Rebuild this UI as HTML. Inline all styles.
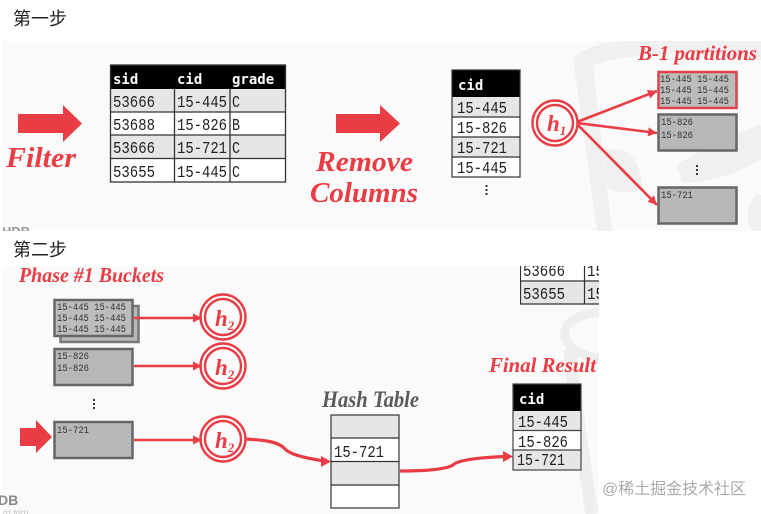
<!DOCTYPE html>
<html><head><meta charset="utf-8">
<style>
html,body{margin:0;padding:0;background:#fff;width:761px;height:514px;overflow:hidden}
svg{display:block}
.m{font-family:"Liberation Mono","DejaVu Sans Mono",monospace;font-size:16.500px;fill:#222}
.h{font-family:"DejaVu Sans Mono","Liberation Mono",monospace;font-size:14px;font-weight:bold;fill:#fff}
.s{font-family:"Liberation Mono","DejaVu Sans Mono",monospace;font-size:10.500px;fill:#333}
.t{font-family:"Liberation Serif",serif;font-style:italic;font-weight:bold;fill:#ea3c44}
.c{font-family:"Liberation Sans","Noto Sans CJK SC",sans-serif;font-size:18px;fill:#222}
.hh{font-family:"Liberation Serif",serif;font-style:italic;font-weight:bold;font-size:23px;fill:#ea3c44}
.sub{font-size:13px}
</style></head><body>
<svg width="761" height="514" viewBox="0 0 761 514" xmlns="http://www.w3.org/2000/svg">
<defs>
<marker id="a" markerUnits="userSpaceOnUse" markerWidth="10" markerHeight="10" refX="9" refY="5" orient="auto"><path d="M0 0.5L9 5L0 9.500Z" fill="#ea3c44"/></marker>
<clipPath id="p1"><rect x="3" y="41" width="758" height="190"/></clipPath>
<clipPath id="p2"><rect x="3" y="266" width="596" height="248"/></clipPath>
</defs>
<rect x="3" y="41" width="758" height="190" fill="#fafafa"/>
<g clip-path="url(#p1)">
<path d="M573 58C590 44 610 41 640 41H761V60C700 52 630 50 593 66L612 231H597Z" fill="#f0f0f0"/>
<path d="M604 150C625 145 640 155 643 190C620 195 610 190 606 185Z" fill="#f0f0f0"/>
<path d="M677 165C700 150 740 130 761 125V160C735 175 700 185 682 182Z" fill="#f0f0f0"/>
<path d="M755 195C745 210 745 225 755 231H761V195Z" fill="#f0f0f0"/>
</g>
<rect x="3" y="266" width="596" height="248" fill="#fafafa"/>
<g clip-path="url(#p2)" fill="none" stroke="#eeeeee">
<path d="M599 312C575 315 560 325 566 340C572 352 590 358 600 358" stroke-width="9"/>
<path d="M570 350C575 400 582 450 592 514" stroke-width="13"/>
</g>

<text class="c" x="13" y="25">第一步</text>
<text class="c" x="13" y="256">第二步</text>

<path d="M18 114H63V105L82 123.500L63 142V133H18Z" fill="#ea3c44"/>
<path d="M336 114H380V105L400 123.500L380 142V133H336Z" fill="#ea3c44"/>
<text class="t" x="6" y="167" font-size="28" textLength="70" lengthAdjust="spacingAndGlyphs">Filter</text>
<text class="t" x="316" y="171" font-size="28" textLength="97" lengthAdjust="spacingAndGlyphs">Remove</text>
<text class="t" x="310" y="202" font-size="28" textLength="108" lengthAdjust="spacingAndGlyphs">Columns</text>

<!-- table 1 -->
<rect x="110.500" y="65" width="175" height="24" fill="#000"/>
<rect x="110.500" y="89" width="175" height="23" fill="#e6e6e6"/>
<rect x="110.500" y="112" width="175" height="23" fill="#fff"/>
<rect x="110.500" y="135" width="175" height="23" fill="#e6e6e6"/>
<rect x="110.500" y="158" width="175" height="24" fill="#fff"/>
<g stroke="#333" stroke-width="1.300" fill="none">
<rect x="110.500" y="65" width="175" height="117"/>
<path d="M110 112H285M110 135H285M110 158.500H285M174.500 89V182M230 89V182"/>
</g>
<text class="h" x="113" y="84">sid</text><text class="h" x="177" y="84">cid</text><text class="h" x="232" y="84">grade</text>
<text class="m" x="113" y="107" textLength="42" lengthAdjust="spacingAndGlyphs">53666</text><text class="m" x="177" y="107" textLength="50" lengthAdjust="spacingAndGlyphs">15-445</text><text class="m" x="232" y="107" textLength="8" lengthAdjust="spacingAndGlyphs">C</text>
<text class="m" x="113" y="130" textLength="42" lengthAdjust="spacingAndGlyphs">53688</text><text class="m" x="177" y="130" textLength="50" lengthAdjust="spacingAndGlyphs">15-826</text><text class="m" x="232" y="130" textLength="8" lengthAdjust="spacingAndGlyphs">B</text>
<text class="m" x="113" y="153" textLength="42" lengthAdjust="spacingAndGlyphs">53666</text><text class="m" x="177" y="153" textLength="50" lengthAdjust="spacingAndGlyphs">15-721</text><text class="m" x="232" y="153" textLength="8" lengthAdjust="spacingAndGlyphs">C</text>
<text class="m" x="113" y="177" textLength="42" lengthAdjust="spacingAndGlyphs">53655</text><text class="m" x="177" y="177" textLength="50" lengthAdjust="spacingAndGlyphs">15-445</text><text class="m" x="232" y="177" textLength="8" lengthAdjust="spacingAndGlyphs">C</text>

<!-- cid table -->
<rect x="452" y="70" width="68" height="27" fill="#000"/>
<rect x="452" y="97" width="68" height="20" fill="#e6e6e6"/>
<rect x="452" y="117" width="68" height="20" fill="#fff"/>
<rect x="452" y="137" width="68" height="20" fill="#e6e6e6"/>
<rect x="452" y="157" width="68" height="20" fill="#fff"/>
<g stroke="#333" stroke-width="1.200" fill="none"><rect x="452" y="70" width="68" height="107"/><path d="M452 117H520M452 137H520M452 157H520"/></g>
<text class="h" x="458" y="90">cid</text>
<text class="m" x="457" y="113" textLength="50" lengthAdjust="spacingAndGlyphs">15-445</text><text class="m" x="457" y="133" textLength="50" lengthAdjust="spacingAndGlyphs">15-826</text><text class="m" x="457" y="153" textLength="50" lengthAdjust="spacingAndGlyphs">15-721</text><text class="m" x="457" y="173" textLength="50" lengthAdjust="spacingAndGlyphs">15-445</text>
<g fill="#333"><rect x="485.500" y="185" width="2" height="2"/><rect x="485.500" y="189" width="2" height="2"/><rect x="485.500" y="193" width="2" height="2"/></g>

<!-- h1 -->
<circle cx="555" cy="123" r="22.500" fill="none" stroke="#ea3c44" stroke-width="2.400"/>
<circle cx="555" cy="123" r="18" fill="none" stroke="#ea3c44" stroke-width="2.400"/>
<text class="hh" x="547" y="131">h<tspan class="sub" dy="4">1</tspan></text>
<g stroke="#ea3c44" stroke-width="2.600" fill="none">
<path d="M577 122L657 91" marker-end="url(#a)"/>
<path d="M577 123L657 133" marker-end="url(#a)"/>
<path d="M577 124L657 205" marker-end="url(#a)"/>
</g>
<text class="t" x="638" y="60" font-size="21" textLength="119" lengthAdjust="spacingAndGlyphs">B-1 partitions</text>

<!-- buckets panel 1 -->
<rect x="658.500" y="72" width="78" height="36" fill="#bcbcbc" stroke="#e04048" stroke-width="2.500"/>
<text class="s" x="660" y="82" textLength="69" lengthAdjust="spacingAndGlyphs">15-445 15-445</text><text class="s" x="660" y="93" textLength="69" lengthAdjust="spacingAndGlyphs">15-445 15-445</text><text class="s" x="660" y="104" textLength="69" lengthAdjust="spacingAndGlyphs">15-445 15-445</text>
<rect x="658.500" y="114.500" width="78" height="36" fill="#b8b8b8" stroke="#666" stroke-width="2.500"/>
<text class="s" x="661" y="125" textLength="32" lengthAdjust="spacingAndGlyphs">15-826</text><text class="s" x="661" y="138" textLength="32" lengthAdjust="spacingAndGlyphs">15-826</text>
<g fill="#333"><rect x="696" y="165" width="2" height="2"/><rect x="696" y="169" width="2" height="2"/><rect x="696" y="173" width="2" height="2"/></g>
<rect x="658.500" y="187.500" width="78" height="36" fill="#b8b8b8" stroke="#666" stroke-width="2.500"/>
<text class="s" x="661" y="198" textLength="32" lengthAdjust="spacingAndGlyphs">15-721</text>

<g clip-path="url(#p1)"><text fill="#999" font-family="Liberation Sans,sans-serif" font-size="13" font-weight="bold" x="2" y="236">HDB</text></g>

<!-- top stub -->
<svg x="520" y="266" width="79" height="39" viewBox="520 266 79 39">
<rect x="520.500" y="281" width="90" height="23" fill="#e6e6e6"/>
<rect x="520.500" y="260" width="90" height="21" fill="#fff"/>
<g stroke="#333" stroke-width="1.200" fill="none"><path d="M520.500 260V304H610M520 281H610M584.500 260V304"/></g>
<text class="m" x="523" y="276" textLength="42" lengthAdjust="spacingAndGlyphs">53666</text><text class="m" x="587" y="276" textLength="17" lengthAdjust="spacingAndGlyphs">15</text>
<text class="m" x="523" y="299" textLength="42" lengthAdjust="spacingAndGlyphs">53655</text><text class="m" x="587" y="299" textLength="17" lengthAdjust="spacingAndGlyphs">15</text>
</svg>

<!-- phase 1 -->
<text class="t" x="19" y="282" font-size="21" textLength="145" lengthAdjust="spacingAndGlyphs">Phase #1 Buckets</text>
<rect x="60.500" y="306" width="78" height="36" fill="#b8b8b8" stroke="#777" stroke-width="2.500"/>
<rect x="54.500" y="300" width="78" height="36" fill="#bcbcbc" stroke="#666" stroke-width="2.500"/>
<text class="s" x="57" y="310" textLength="69" lengthAdjust="spacingAndGlyphs">15-445 15-445</text><text class="s" x="57" y="321" textLength="69" lengthAdjust="spacingAndGlyphs">15-445 15-445</text><text class="s" x="57" y="332" textLength="69" lengthAdjust="spacingAndGlyphs">15-445 15-445</text>
<rect x="54.500" y="349" width="78" height="36" fill="#b8b8b8" stroke="#666" stroke-width="2.500"/>
<text class="s" x="57" y="359" textLength="32" lengthAdjust="spacingAndGlyphs">15-826</text><text class="s" x="57" y="371" textLength="32" lengthAdjust="spacingAndGlyphs">15-826</text>
<g fill="#333"><rect x="93" y="399" width="2" height="2"/><rect x="93" y="403" width="2" height="2"/><rect x="93" y="407" width="2" height="2"/></g>
<rect x="54.500" y="422" width="78" height="36" fill="#b8b8b8" stroke="#666" stroke-width="2.500"/>
<text class="s" x="57" y="433" textLength="32" lengthAdjust="spacingAndGlyphs">15-721</text>
<path d="M20 428H36V420L52 437L36 453V446H20Z" fill="#ea3c44"/>

<g stroke="#ea3c44" stroke-width="2.600" fill="none">
<path d="M134 318H202" marker-end="url(#a)"/>
<path d="M134 366H202" marker-end="url(#a)"/>
<path d="M134 440H202" marker-end="url(#a)"/>
</g>
<g fill="none" stroke="#ea3c44" stroke-width="2.400">
<circle cx="223" cy="317" r="22.500"/><circle cx="223" cy="317" r="18"/>
<circle cx="223" cy="366" r="22.500"/><circle cx="223" cy="366" r="18"/>
<circle cx="223" cy="439" r="22.500"/><circle cx="223" cy="439" r="18"/>
</g>
<text class="hh" x="215" y="326">h<tspan class="sub" dy="4">2</tspan></text>
<text class="hh" x="215" y="375">h<tspan class="sub" dy="4">2</tspan></text>
<text class="hh" x="215" y="448">h<tspan class="sub" dy="4">2</tspan></text>

<path d="M246 439C262 440 278 441 285 449C292 456 312 459 324 461" fill="none" stroke="#ea3c44" stroke-width="3.200"/>
<path d="M321 456L331 461.500L321 467Z" fill="#ea3c44"/>

<text class="t" x="322" y="407" font-size="23" style="fill:#5a5a5a" textLength="97" lengthAdjust="spacingAndGlyphs">Hash Table</text>
<rect x="331" y="415" width="68" height="23" fill="#e6e6e6"/>
<rect x="331" y="438" width="68" height="24" fill="#fff"/>
<rect x="331" y="462" width="68" height="23" fill="#e6e6e6"/>
<rect x="331" y="485" width="68" height="23" fill="#fff"/>
<g stroke="#333" stroke-width="1.200" fill="none"><rect x="331" y="415" width="68" height="93"/><path d="M331 438H399M331 461.500H399M331 485H399"/></g>
<text class="m" x="334" y="457" textLength="50" lengthAdjust="spacingAndGlyphs">15-721</text>

<path d="M400 471C420 471 445 470 453 465C458 459 490 457 505 456.500" fill="none" stroke="#ea3c44" stroke-width="3.200"/>
<path d="M503 451L513 456.500L503 462Z" fill="#ea3c44"/>

<text class="t" x="489" y="372" font-size="21" textLength="107" lengthAdjust="spacingAndGlyphs">Final Result</text>
<rect x="513" y="384" width="68" height="27" fill="#000"/>
<rect x="513" y="411" width="68" height="20" fill="#e6e6e6"/>
<rect x="513" y="431" width="68" height="20" fill="#fff"/>
<rect x="513" y="450" width="68" height="20" fill="#e6e6e6"/>
<g stroke="#444" stroke-width="1.200" fill="none"><rect x="513" y="384" width="68" height="86"/><path d="M513 430.500H581M513 450H581"/></g>
<text class="h" x="519" y="404">cid</text>
<text class="m" x="518" y="427" textLength="50" lengthAdjust="spacingAndGlyphs">15-445</text><text class="m" x="518" y="447" textLength="50" lengthAdjust="spacingAndGlyphs">15-826</text><text class="m" x="517" y="465" textLength="48" lengthAdjust="spacingAndGlyphs">15-721</text>

<text fill="#888" font-family="Liberation Sans,sans-serif" font-size="14" font-weight="bold" x="-2" y="505">DB</text>
<text fill="#aaa" font-family="Liberation Sans,sans-serif" font-size="6" x="3" y="515">(11.2021)</text>
<text font-family="'Liberation Sans','Noto Sans CJK SC',sans-serif" font-size="16" fill="#aaa" x="602" y="494" textLength="144">@稀土掘金技术社区</text>
</svg>
</body></html>
